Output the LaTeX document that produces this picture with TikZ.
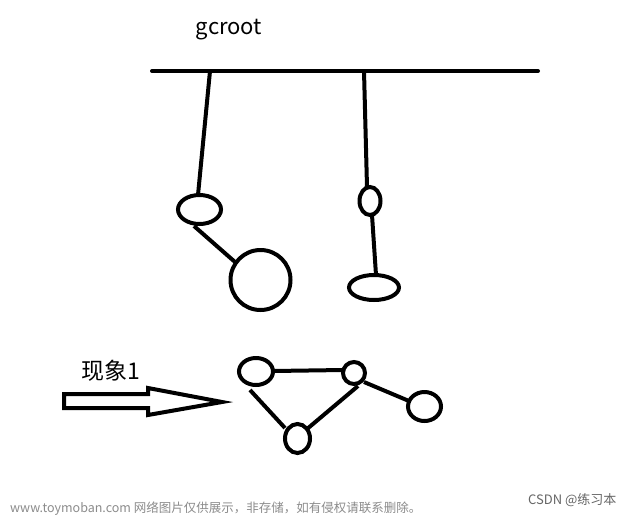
\documentclass[tikz,border=0pt]{standalone}
\usepackage{fontspec}
\setmainfont{Noto Sans CJK SC}
\newfontfamily\cjk{Noto Sans CJK SC}
\begin{document}
\begin{tikzpicture}[x=1pt,y=-1pt,
  stroke/.style={line width=4pt,black},
  lbl/.style={font=\cjk\fontsize{22}{25}\selectfont,inner sep=0pt,anchor=center},
  wm/.style={font=\cjk\fontsize{12.5}{14}\selectfont,text=black!45,inner sep=0pt,anchor=west}
]
\useasboundingbox[fill=white] (0,0) rectangle (631,517);
% top
\node[lbl] (gc) at (229,30) {gcroot};
\coordinate (b1) at (152,71);
\coordinate (b2) at (538,71);
\draw[stroke,line cap=round] (b1) -- (b2);
\coordinate (t1) at (210,71);
\coordinate (t2) at (364,71);
% left chain
\draw[stroke] (199.5,209.5) ellipse (21.5 and 14.5);
\draw[stroke] (260.5,280) circle (30);
\draw[stroke] (t1) -- (198,195);
\draw[stroke] (194,226) -- (235,262);
% right chain
\draw[stroke] (370,201) ellipse (10.5 and 14);
\draw[stroke] (374,287.5) ellipse (25 and 12.5);
\draw[stroke] (t2) -- (367,187);
\draw[stroke] (372,215) -- (376,275);
% label
\node[lbl,font=\cjk\fontsize{23}{26}\selectfont] (xx) at (111,371) {现象1};
% hollow arrow
\draw[stroke,line join=miter,miter limit=10] (64,394) -- (148,394) -- (148,388) -- (222,402) -- (148,415) -- (148,408) -- (64,408) -- cycle;
% graph
\draw[stroke] (256,371.5) ellipse (17 and 13.5);
\draw[stroke] (354,373) ellipse (11 and 11);
\draw[stroke] (424.5,406.5) ellipse (16.5 and 14.5);
\draw[stroke] (297.5,438.5) ellipse (12.5 and 14.5);
\draw[stroke] (273,371) -- (343,370);
\draw[stroke] (250,390) -- (285,428);
\draw[stroke] (307,429) -- (358,386);
\draw[stroke] (364,382) -- (409,401);
% watermark
\node[wm] (w1) at (10,509) {www.toymoban.com 网络图片仅供展示，非存储，如有侵权请联系删除。};
\node[wm,text=black!60,font=\cjk\fontsize{13}{15}\selectfont] (w2) at (528,500) {CSDN @练习本};
\end{tikzpicture}
\end{document}
